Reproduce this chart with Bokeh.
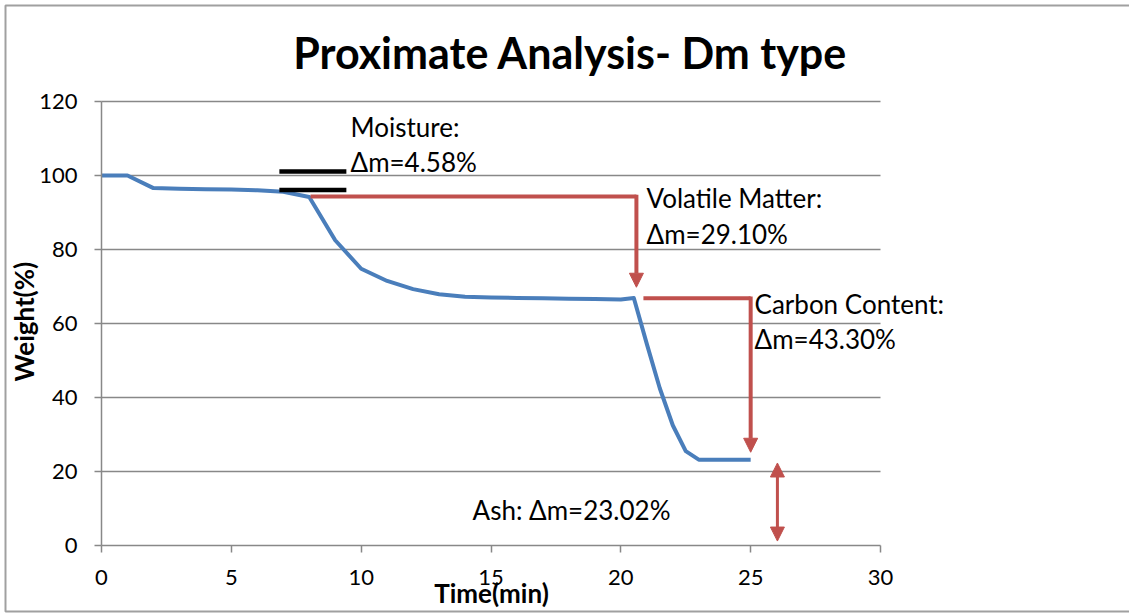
import math
from bokeh.plotting import figure
from bokeh.models import Range1d, FixedTicker, Label, Arrow, NormalHead
from bokeh.embed import file_html
from bokeh.resources import INLINE

# ---- data ----
time_min = [0, 1, 2, 3, 4, 5, 6, 7, 8, 9, 10, 11, 12, 13, 14, 15, 16, 17, 18, 19, 20, 20.5,
            21, 21.5, 22, 22.5, 23, 24, 25]
weight_pct = [100, 100, 96.6, 96.4, 96.3, 96.2, 96.0, 95.6, 94.2, 82.5, 74.8, 71.5, 69.3, 67.9,
              67.2, 67.0, 66.9, 66.8, 66.7, 66.6, 66.5, 66.9,
              54.5, 42.5, 32.5, 25.5, 23.2, 23.2, 23.2]

x_ticks = [0, 5, 10, 15, 20, 25, 30]
y_ticks = [0, 20, 40, 60, 80, 100, 120]

title_text = "Proximate Analysis- Dm type"
x_title = "Time(min)"
y_title = "Weight(%)"

# annotation values (data units)
moisture_bar_x = [6.85, 9.43]
moisture_bar_y = [101.1, 96.1]
vm_path_x = [8.05, 20.6]
vm_y_top = 94.3
vm_y_end = 69.8
cc_path_x = [20.87, 25.0]
cc_y_top = 66.8
cc_y_end = 25.2
ash_x = 26.03
ash_y = [22.3, 1.2]

notes = [
    ("Moisture:", 9.59, 113.0),
    ("\u0394m=4.58%", 9.59, 103.6),
    ("Volatile Matter:", 20.99, 93.8),
    ("\u0394m=29.10%", 20.99, 84.3),
    ("Carbon Content:", 25.15, 65.4),
    ("\u0394m=43.30%", 25.15, 55.9),
    ("Ash: \u0394m=23.02%", 14.29, 9.5),
]
title_pos = (18.06, 133.2)
x_title_pos = (15.02, -12.9)
y_title_pos = (-2.97, 60.5)

FONT = "Lato"
BLUE = "#4A7EBB"
RED = "#C0504D"
GRID = "#888888"
EDGE = "#A0A0A0"

# layout: plot area 0..30 x 0..120 spans 779 x 444 px, origin at pixel (101, 545);
# the frame covers the whole canvas and the axes sit at the data origin.
W, H = 1129, 615
OX, OY = 101, 545
PX_X = 779 / 30.0
PX_Y = 444 / 120.0
x_lo, x_hi = -OX / PX_X, (W - OX) / PX_X
y_lo, y_hi = -(H - OY) / PX_Y, OY / PX_Y

p = figure(width=W, height=H, frame_width=W, frame_height=H, min_border=0,
           x_range=Range1d(x_lo, x_hi), y_range=Range1d(y_lo, y_hi),
           output_backend="svg", toolbar_location=None, tools="")
p.outline_line_color = None
p.background_fill_color = "white"
p.border_fill_color = "white"
p.xgrid.grid_line_color = None
p.ygrid.grid_line_color = None

# chart-area edge (left, top, bottom), 5 px inside the canvas
ex0 = x_lo + 5 / PX_X
ey0 = y_lo + 4 / PX_Y
ey1 = y_hi - 5 / PX_Y
p.line([x_hi, ex0, ex0, x_hi], [ey1, ey1, ey0, ey0], line_color=EDGE, line_width=2)

# horizontal gridlines across the 0..30 plot area
p.segment(x0=[x_ticks[0]] * len(y_ticks[1:]), x1=[x_ticks[-1]] * len(y_ticks[1:]),
          y0=y_ticks[1:], y1=y_ticks[1:], line_color=GRID, line_width=1.5)

for ax in (p.xaxis[0], p.yaxis[0]):
    ax.fixed_location = 0
    ax.axis_line_color = GRID
    ax.axis_line_width = 1.5
    ax.major_tick_line_color = GRID
    ax.major_tick_line_width = 1.5
    ax.major_tick_out = 7
    ax.major_tick_in = 0
    ax.minor_tick_line_color = None
    ax.major_label_text_font = FONT
    ax.major_label_text_font_size = "22px"
    ax.major_label_text_color = "black"
    ax.major_label_standoff = 17
p.xaxis[0].ticker = FixedTicker(ticks=x_ticks)
p.yaxis[0].ticker = FixedTicker(ticks=y_ticks)
p.xaxis[0].bounds = (x_ticks[0], x_ticks[-1])
p.yaxis[0].bounds = (y_ticks[0], y_ticks[-1])

# main curve
p.line(time_min, weight_pct, line_color=BLUE, line_width=4, line_join="round")

# moisture bars
for yb in moisture_bar_y:
    p.line(moisture_bar_x, [yb, yb], line_color="black", line_width=4.5)

# volatile matter
p.line(vm_path_x, [vm_y_top, vm_y_top], line_color=RED, line_width=4)
p.add_layout(Arrow(end=NormalHead(size=14, fill_color=RED, line_color=RED),
                   x_start=vm_path_x[1], y_start=vm_y_top + 0.5,
                   x_end=vm_path_x[1], y_end=vm_y_end,
                   line_color=RED, line_width=4))
# carbon content
p.line(cc_path_x, [cc_y_top, cc_y_top], line_color=RED, line_width=4)
p.add_layout(Arrow(end=NormalHead(size=14, fill_color=RED, line_color=RED),
                   x_start=cc_path_x[1], y_start=cc_y_top + 0.5,
                   x_end=cc_path_x[1], y_end=cc_y_end,
                   line_color=RED, line_width=4))
# ash
p.add_layout(Arrow(start=NormalHead(size=14, fill_color=RED, line_color=RED),
                   end=NormalHead(size=14, fill_color=RED, line_color=RED),
                   x_start=ash_x, y_start=ash_y[0], x_end=ash_x, y_end=ash_y[1],
                   line_color=RED, line_width=3))

for txt, tx, ty in notes:
    p.add_layout(Label(x=tx, y=ty, text=txt, text_font=FONT, text_font_size="26px",
                       text_color="black", text_baseline="alphabetic", text_align="left"))

p.add_layout(Label(x=title_pos[0], y=title_pos[1], text=title_text, text_font=FONT,
                   text_font_size="43px", text_font_style="bold", text_color="black",
                   text_align="center", text_baseline="alphabetic"))
p.add_layout(Label(x=x_title_pos[0], y=x_title_pos[1], text=x_title, text_font=FONT,
                   text_font_size="26px", text_font_style="bold", text_color="black",
                   text_align="center", text_baseline="alphabetic"))
p.add_layout(Label(x=y_title_pos[0], y=y_title_pos[1], text=y_title, text_font=FONT,
                   angle=math.pi / 2, text_font_size="26px", text_font_style="bold",
                   text_color="black", text_align="center", text_baseline="middle"))

open("out.html", "w").write(file_html(p, INLINE))
